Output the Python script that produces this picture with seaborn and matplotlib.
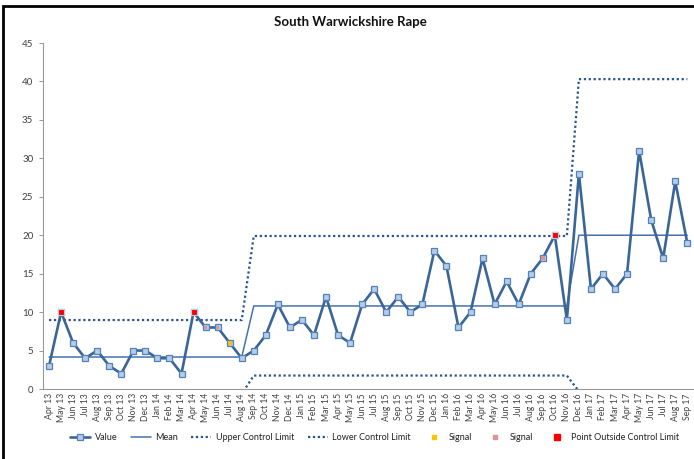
import matplotlib
matplotlib.use("Agg")
import matplotlib.pyplot as plt
import seaborn as sns
import pandas as pd
from matplotlib.lines import Line2D
from matplotlib.patches import Rectangle

months = ["Apr 13", "May 13", "Jun 13", "Jul 13", "Aug 13", "Sep 13", "Oct 13", "Nov 13", "Dec 13",
          "Jan 14", "Feb 14", "Mar 14", "Apr 14", "May 14", "Jun 14", "Jul 14", "Aug 14", "Sep 14",
          "Oct 14", "Nov 14", "Dec 14", "Jan 15", "Feb 15", "Mar 15", "Apr 15", "May 15", "Jun 15",
          "Jul 15", "Aug 15", "Sep 15", "Oct 15", "Nov 15", "Dec 15", "Jan 16", "Feb 16", "Mar 16",
          "Apr 16", "May 16", "Jun 16", "Jul 16", "Aug 16", "Sep 16", "Oct 16", "Nov 16", "Dec 16",
          "Jan 17", "Feb 17", "Mar 17", "Apr 17", "May 17", "Jun 17", "Jul 17", "Aug 17", "Sep 17"]
values = [3, 10, 6, 4, 5, 3, 2, 5, 5, 4, 4, 2, 10, 8, 8, 6, 4, 5, 7, 11, 8, 9, 7, 12, 7, 6, 11,
          13, 10, 12, 10, 11, 18, 16, 8, 10, 17, 11, 14, 11, 15, 17, 20, 9, 28, 13, 15, 13, 15,
          31, 22, 17, 27, 19]
mean = [4.16] * 17 + [10.8] * 27 + [20.0] * 10
ucl = [8.97] * 17 + [19.9] * 27 + [40.3] * 10
lcl = [-0.65] * 17 + [1.75] * 27 + [-0.3] * 10
signal_yellow = ["Jul 14"]
signal_pink = ["May 14", "Jun 14", "Sep 16"]
outside = ["May 13", "Apr 14", "Oct 16"]

sns.set_theme(style="white")
plt.rcParams["font.family"] = ["Lato", "DejaVu Sans"]

df = pd.DataFrame({"idx": range(len(months)), "month": months, "value": values,
                   "mean": mean, "ucl": ucl, "lcl": lcl})

fig = plt.figure(figsize=(6.94, 4.59), dpi=100)
ax = fig.add_axes([0.062, 0.1525, 0.937, 0.7538])

blue = "#3A6599"
dotc = "#2B5391"
sns.lineplot(data=df, x="idx", y="ucl", ax=ax, color=dotc, linewidth=1.6,
             linestyle=(0, (1, 1.2)), dash_capstyle="butt", legend=False)
sns.lineplot(data=df, x="idx", y="lcl", ax=ax, color=dotc, linewidth=1.6,
             linestyle=(0, (1, 1.2)), dash_capstyle="butt", legend=False)
sns.lineplot(data=df, x="idx", y="mean", ax=ax, color="#4672AA", linewidth=1.1, legend=False)
sns.lineplot(data=df, x="idx", y="value", ax=ax, color=blue, linewidth=1.9, marker="s",
             markersize=3.7, markerfacecolor="#B8CCE4", markeredgecolor="#4F81BD",
             markeredgewidth=0.9, legend=False)

dy = df[df["month"].isin(signal_yellow)]
dp = df[df["month"].isin(signal_pink)]
dr = df[df["month"].isin(outside)]
sns.scatterplot(data=dy, x="idx", y="value", ax=ax, marker="s", s=7, color="#FFC000",
                edgecolor="none", zorder=5, legend=False)
sns.scatterplot(data=dp, x="idx", y="value", ax=ax, marker="s", s=7, color="#D99694",
                edgecolor="none", zorder=5, legend=False)
sns.scatterplot(data=dr, x="idx", y="value", ax=ax, marker="s", s=18, color="#FF0000",
                edgecolor="#B8CCE4", linewidth=0.8, zorder=6, legend=False)

ax.set_xlim(-0.5, len(months) - 0.5)
ax.set_ylim(0, 45)
ax.set_yticks(range(0, 46, 5))
ax.set_xticks(range(len(months)))
ax.set_xticklabels(months, rotation=90, fontsize=6.2, color="#404040")
ax.tick_params(axis="y", labelsize=7, colors="#404040", length=3, width=0.6, left=True,
               pad=4)
ax.tick_params(axis="x", length=0, pad=3)
ax.tick_params(axis="y", color="#888888")
ax.set_xlabel("")
ax.set_ylabel("")
for s in ["top", "right"]:
    ax.spines[s].set_visible(False)
ax.spines["left"].set_color("#999999")
ax.spines["left"].set_linewidth(0.8)
ax.spines["bottom"].set_color("#999999")
ax.spines["bottom"].set_linewidth(0.8)

fig.text(0.505, 0.952, "South Warwickshire Rape", ha="center", va="center",
         fontsize=9.5, fontweight="bold", color="#111111")

handles = [
    Line2D([], [], color=blue, linewidth=1.9, marker="s", markersize=3.7,
           markerfacecolor="#B8CCE4", markeredgecolor="#4F81BD", markeredgewidth=0.9),
    Line2D([], [], color="#4672AA", linewidth=1.1),
    Line2D([], [], color=dotc, linewidth=1.6, linestyle=(0, (1, 1.2))),
    Line2D([], [], color=dotc, linewidth=1.6, linestyle=(0, (1, 1.2))),
    Line2D([], [], color="#FFC000", linestyle="none", marker="s", markersize=3.2),
    Line2D([], [], color="#D99694", linestyle="none", marker="s", markersize=3.2),
    Line2D([], [], color="#FF0000", linestyle="none", marker="s", markersize=4.2),
]
labels = ["Value", "Mean", "Upper Control Limit", "Lower Control Limit", "Signal", "Signal",
          "Point Outside Control Limit"]
fig.legend(handles, labels, loc="center", bbox_to_anchor=(0.54, 0.047), ncol=7,
           frameon=False, fontsize=6.5, handlelength=2.2, columnspacing=1.5,
           handletextpad=0.5, labelcolor="#222222")

fig.patches.append(Rectangle((0.004, -0.2), 1.2, 1.186, transform=fig.transFigure,
                             fill=False, edgecolor="black", linewidth=2.0))

fig.savefig("out.png", dpi=100)
